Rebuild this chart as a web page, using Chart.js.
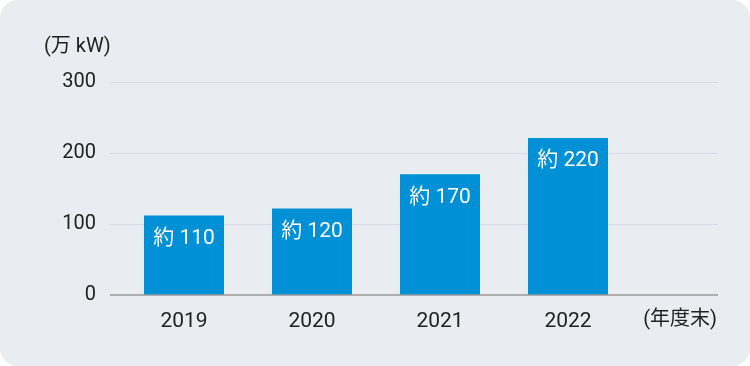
<!DOCTYPE html>
<html>
<head>
<meta charset="utf-8">
<script src="https://cdn.jsdelivr.net/npm/chart.js@4"></script>
<style>
  html, body { margin: 0; padding: 0; background: #fff; }
  #panel { width: 750px; height: 366px; background: #e9ecf0; border-radius: 18px; overflow: hidden; }
</style>
</head>
<body>
<div id="panel"><canvas id="chart" width="750" height="366"></canvas></div>
<script>
var years = ["2019", "2020", "2021", "2022"];
var capacity = [112, 122, 170, 221];
var barLabels = ["約 110", "約 120", "約 170", "約 220"];
var yTicks = [0, 100, 200, 300];
var unitLabel = "(万 kW)";
var xUnitLabel = "(年度末)";

var FONT = "Roboto, 'Noto Sans CJK JP', sans-serif";

// gridlines, axis line and extra text
var decor = {
	id: "decor",
	beforeDatasetsDraw: function(chart) {
		var ctx = chart.ctx, y = chart.scales.y, area = chart.chartArea;
		var x0 = area.left - 10, x1 = area.right + 86;
		ctx.save();
		yTicks.forEach(function(v) {
			if (v === 0) return;
			var py = Math.round(y.getPixelForValue(v)) + 0.5;
			ctx.strokeStyle = "#d5dde7";
			ctx.lineWidth = 1;
			ctx.beginPath(); ctx.moveTo(x0, py); ctx.lineTo(x1, py); ctx.stroke();
		});
		ctx.restore();
	},
	afterDatasetsDraw: function(chart) {
		var ctx = chart.ctx, y = chart.scales.y, area = chart.chartArea;
		var x0 = area.left - 10, x1 = area.right + 86;
		ctx.save();
		var py = y.getPixelForValue(0);
		ctx.strokeStyle = "#9a9a9a";
		ctx.lineWidth = 1.5;
		ctx.beginPath(); ctx.moveTo(x0, py); ctx.lineTo(x1, py); ctx.stroke();

		ctx.fillStyle = "#222";
		ctx.font = "20px " + FONT;
		ctx.textBaseline = "middle";
		ctx.textAlign = "left";
		ctx.fillText(unitLabel, 44, 47);
		ctx.textAlign = "right";
		ctx.fillText(xUnitLabel, x1 - 1, 320);

		var meta = chart.getDatasetMeta(0);
		ctx.fillStyle = "#fff";
		ctx.font = "21px " + FONT;
		ctx.textAlign = "center";
		meta.data.forEach(function(bar, i) {
			ctx.fillText(barLabels[i], bar.x, bar.y + 23);
		});
		ctx.restore();
	}
};

new Chart(document.getElementById("chart").getContext("2d"), {
	type: "bar",
	data: {
		labels: years,
		datasets: [{
			data: capacity,
			backgroundColor: "#0090d6",
			borderWidth: 0,
			categoryPercentage: 1,
			barPercentage: 0.625
		}]
	},
	options: {
		responsive: false,
		animation: false,
		layout: { padding: { top: 82, right: 118, left: 0, bottom: 0 } },
		plugins: { legend: { display: false }, tooltip: { enabled: false } },
		scales: {
			x: {
				grid: { display: false, drawTicks: false },
				border: { display: false },
				ticks: { color: "#222", font: { family: FONT, size: 21 }, padding: 14 },
				afterFit: function(scale) { scale.height = 71; }
			},
			y: {
				min: 0,
				max: 300,
				afterBuildTicks: function(scale) {
					scale.ticks = yTicks.map(function(v) { return { value: v }; });
				},
				grid: { display: false, drawTicks: false },
				border: { display: false },
				ticks: { color: "#222", font: { family: FONT, size: 20 }, padding: 24 },
				afterFit: function(scale) { scale.width = 120; }
			}
		}
	},
	plugins: [decor]
});
</script>
</body>
</html>
